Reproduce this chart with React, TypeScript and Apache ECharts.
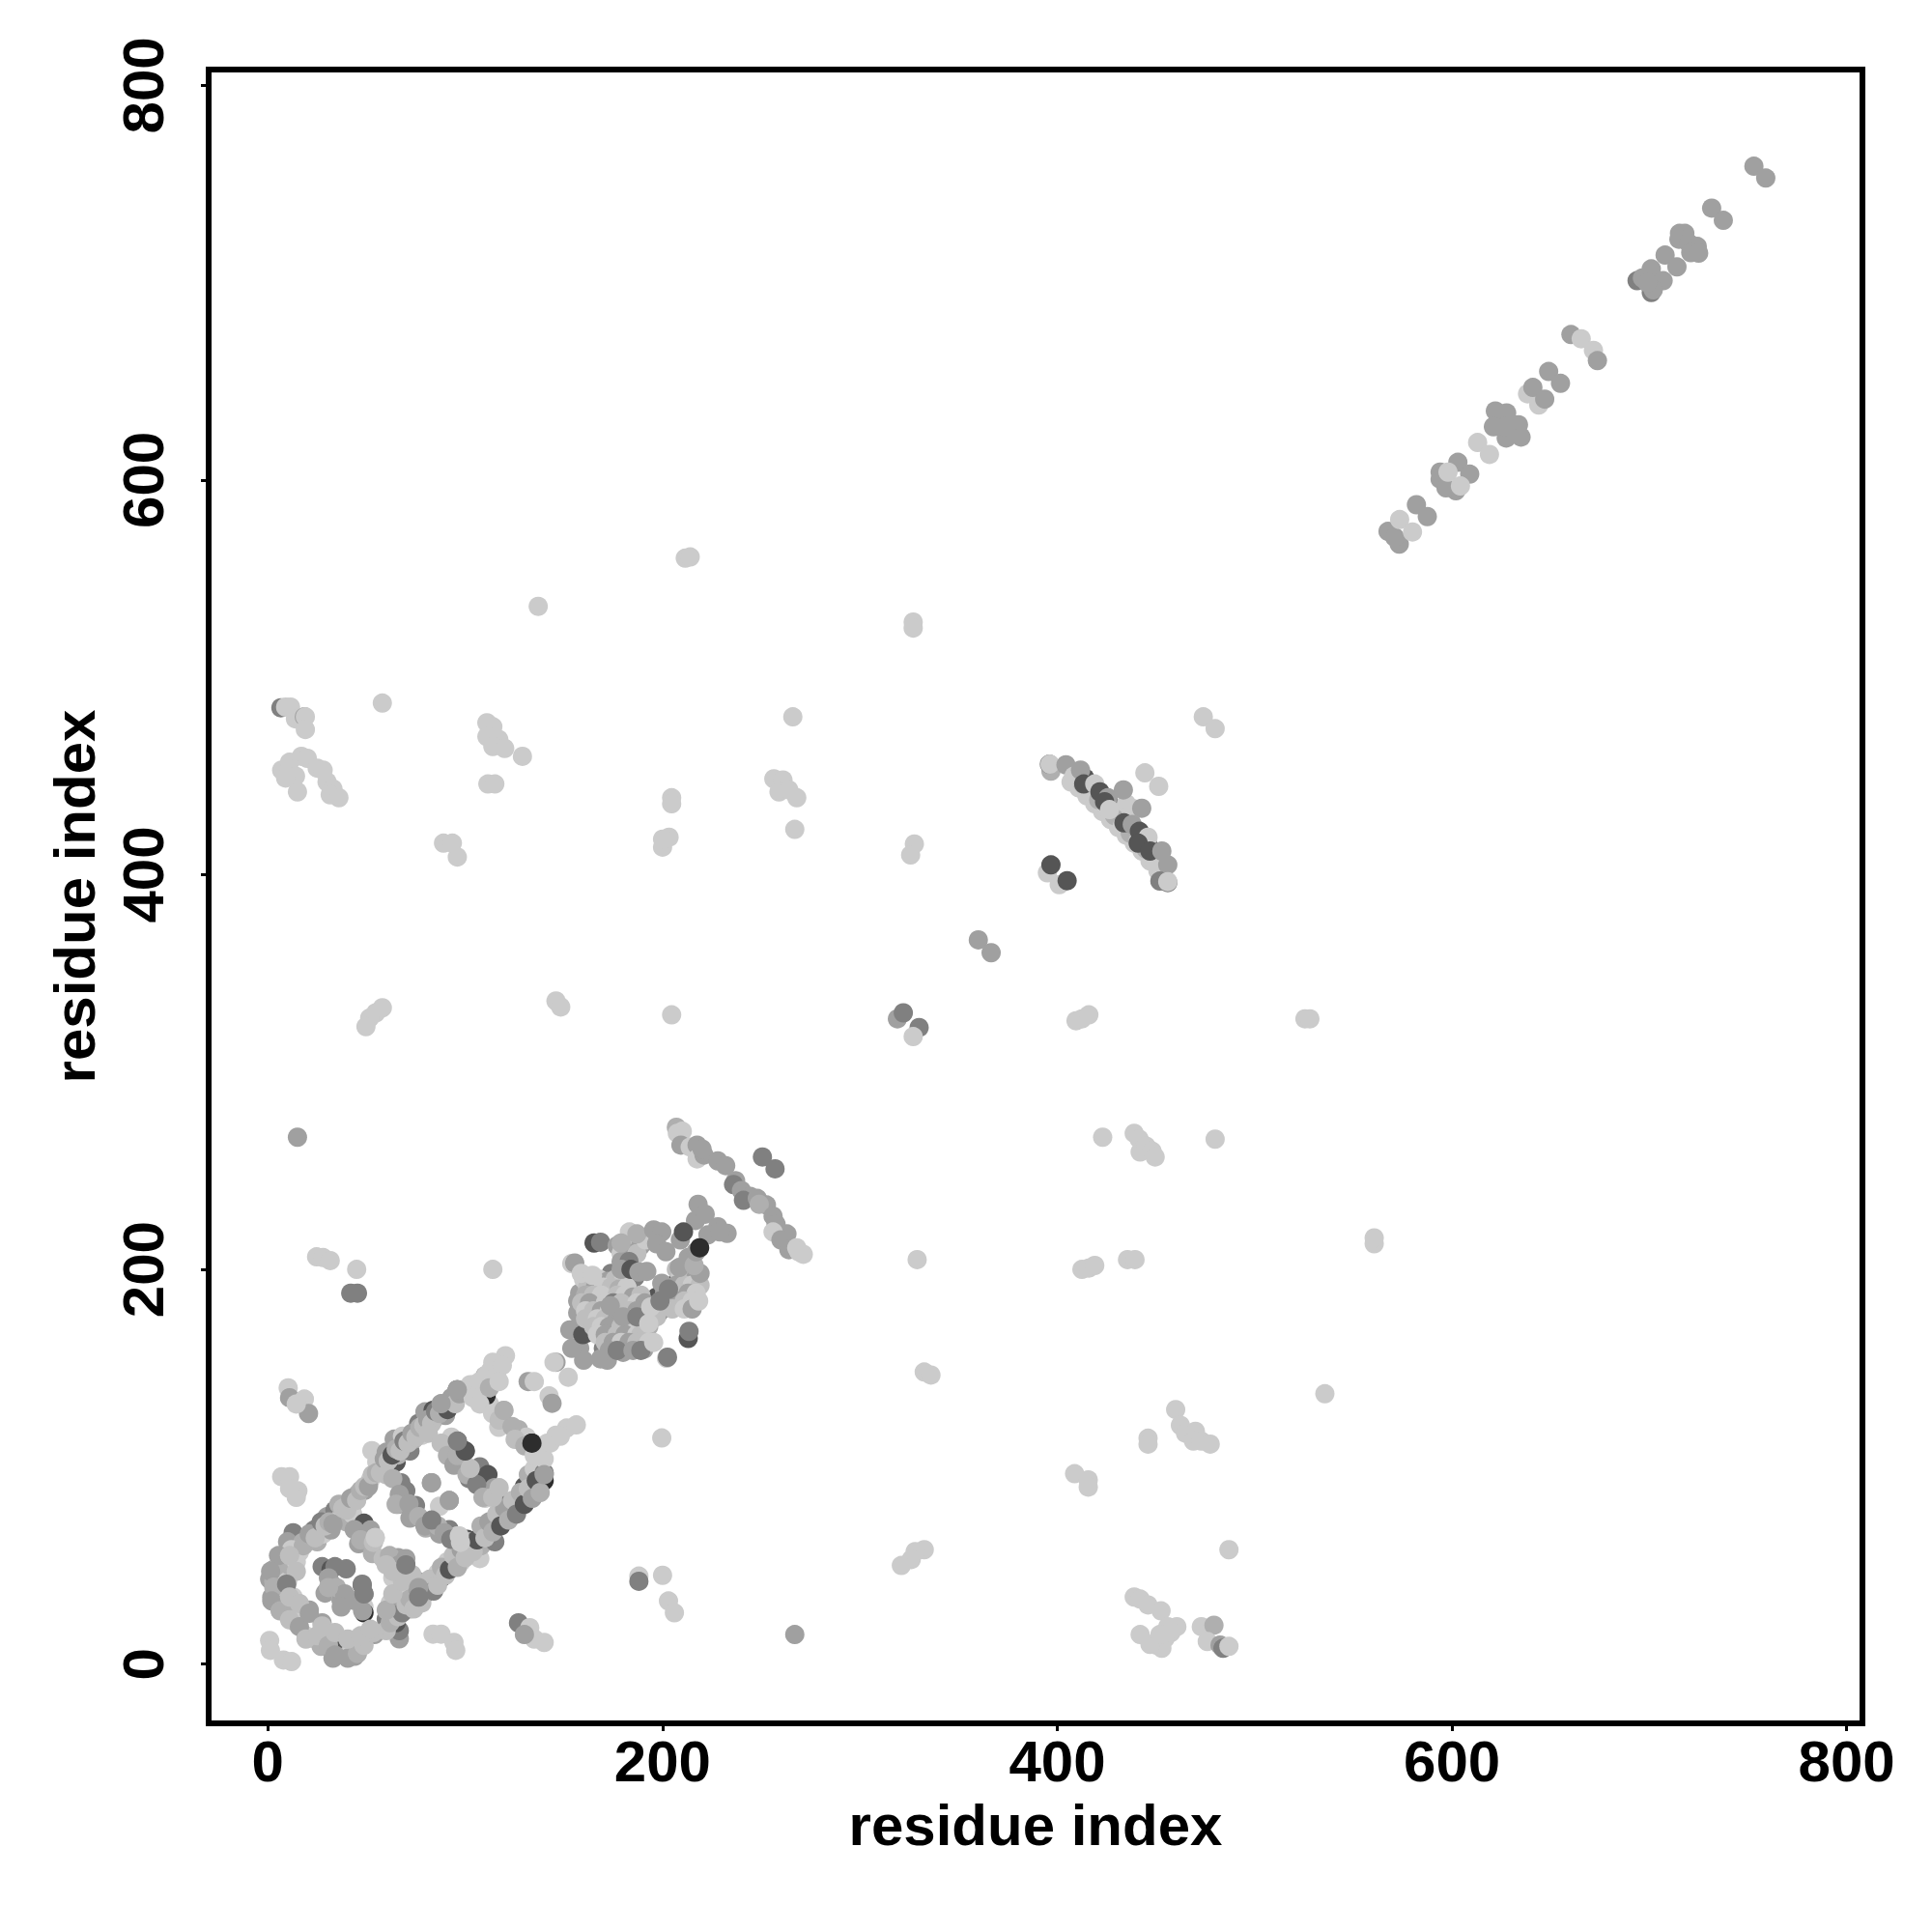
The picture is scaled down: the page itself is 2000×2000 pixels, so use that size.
import React, { useEffect, useRef } from "react";
import * as echarts from "echarts";

const L = 203, F = 190, A = 175, M = 160, D = 128, K = 85, X = 45;
type P = [number, number, number];

const tickValues = [0, 200, 400, 600, 800];
const axisTitle = "residue index";

const upperDiagonal: P[] = [
  [753,759,M],[759,753,M],[731.6,737.8,M],[737.5,731.6,M],[715.3,725,M],[718,725,M],[715,722,M],[720,720,M],[724.3,718.4,M],[721,715.2,M],[725,715,M],
  [708,714,M],[714,708,M],[693.8,701,D],[696.5,702.4,M],[701,707,M],[707,701,M],[701,695,D],[702,696.4,M],[699,700,M],
  [660.3,673.7,M],[665.5,671.6,L],[671.7,665.7,L],[673.7,660.5,M],[649,655,M],[655,649,M],[638.3,643.7,L],[644,638,L],[641,646.9,M],[647,641,M],
  [622,635,M],[627.7,634,M],[621,627,M],[633.7,628,M],[627.5,621.3,M],[635,621.8,M],[627,627,M],[613,619,L],[619,613,L],
  [594,604,M],[594,600.5,M],[602,594.6,M],[597,596,M],[603,609,M],[609,603,M],[598,604,L],[604.3,597,L],
  [582,587.5,M],[587.5,581.5,M],[567.6,574,M],[573.3,567.5,M],[571,571,M],[573.5,580,L],[580,573.7,L],
];

const antiparallelFill: P[] = [
  [410,452,K],[414,449,K],[418,445,K],[422,441,K],[426,437,K],[430,432,K],[434,428,K],[438,423,K],[442,419,K],[446,415,K],[450,410,K],
  [407,447,L],[411,444,L],[415,440,L],[419,436,L],[423,432,L],[427,428,L],[431,424,L],[435,420,L],[439,416,L],[443,412,L],[447,407,L],[451,402,L],
  [409,449,L],[413,446,A],[417,442,L],[421,438,A],[425,434,L],[429,430,A],[433,425,L],[437,421,A],[441,417,L],[445,413,A],[449,407,L],[437,429,L],[435,436,L],
];

const antiparallelUpper: P[] = [
  [396.8,452.5,A],[396,456,D],[396.3,456,L],[404.4,455.7,M],[408.5,450,L],[411.8,453,M],[413.4,446,K],[419,446,L],[421.6,442,K],[425.7,439,M],[433.5,443,M],[424,437,K],[426.5,433,L],[438,433.7,L],[442.8,433.7,M],[433.8,426.3,K],[438,425.5,M],[441.6,422,K],[446,419,L],[441,416,K],[447,412,K],[453,412,M],[456,405,M],[452,396.8,D],[456,396,D],[456,396.5,L],
  [444.4,451.6,L],[451.4,444.8,L],[395,401,L],[401,395,L],[396.8,405,K],[405,397,K],
  [360,367,M],[366.5,360.5,M],
];

const lowerDiagonal: P[] = [
  [207,272,A],[207.5,269,L],[210,270,L],[209.3,263,M],[214,262,L],[217.5,263,M],[217.5,256,L],[221,258,M],[220,261,M],[228,255,M],[232,252.6,M],[237,245,M],[236,243,D],[240,240,M],[244.4,237,M],[241,235,D],[248,236,M],[252.6,232.7,M],[249,233,A],
  [256,227,M],[257.5,223,M],[263,218,M],[256,219,L],[260,215,M],[264,210,M],[268,211,L],[271.3,207.7,L],[269,209,L],[250.6,257,D],[257,251,D],
];

const centralFillDark: P[] = [
  [165.3,213.4,K],[168.6,213.8,D],[160,180,K],[164,186,K],[168,177,K],[172,188,K],[162,168,K],[170,170,K],[178,172,K],[184,168,K],[190,166,K],[180,200,K],[180,207,K],
  [197,186,K],[204,184,K],[208,195,K],[212,190,K],[198,178,K],[186,196,D],[174,198,D],[176,164,D],[170,160,D],[157,184,M],[156,170,M],[158,160,M],[172,154,M],[160,154,M],
  [154,160,M],[153,169.4,M],[157,178,M],[158,188,M],[168.6,154.7,M],[159.6,167,K],[176,160,M],[180,158,M],[185,161,M],[190.6,159.6,M],
];

const centralFillLight: P[] = [
  [160,195,L],[164,195,F],[168,195,L],[172,194,M],[176,195,F],[180,194,L],[162,191,F],[166,191,M],[170,191,L],[174,191,F],[178,190,A],[182,191,L],
  [161,187,A],[165,187,F],[169,187,L],[177,187,F],[181,187,L],[185,186,M],[189,187,F],[159,183,F],[163,183,M],[171,183,L],[175,183,D],[179,183,F],[187,183,L],[191,183,M],
  [161,179,L],[165,179,F],[169,179,M],[173,179,L],[183,179,F],[187,179,M],[161,175,F],[167,175,L],[171,175,F],[177,175,M],[185,175,L],[189,175,F],
  [165,171,F],[169,171,L],[173,171,M],[179,171,F],[183,171,L],[191,171,F],[193,171,A],[167,167,L],[171,167,M],[177,167,F],[181,167,M],[187,167,L],[189,167,F],
  [171,163,F],[175,163,M],[179,163,L],[183,163,M],[187,163,F],[193,163,L],[173,159,M],[177,159,D],[185,159,M],[189,159,D],
  [177,212,M],[181,212,L],[185,212,F],[189,212,M],[179,208,L],[183,208,M],[187,208,F],[179,204,M],[183,204,D],[179,200,M],
  [207,200,F],[211,200,M],[215,200,F],[209,196,L],[213,196,F],[217,196,M],[207,192,M],[211,192,F],[215,192,L],[219,192,F],[201,188,M],[209,188,F],[213,188,M],[217,188,L],
  [203,184,F],[207,184,M],[211,184,F],[215,184,L],[205,180,F],[211,180,L],[215,180,M],[197,176,F],
];

const centralBlock: P[] = [
  [154,203,L],[155.5,203.3,M],[158.8,198,L],[164.5,197,L],[173.5,181.6,M],[180,176,M],[187,176,D],
  [183.2,219,L],[179,213.4,A],[191.4,215,L],[187,218,A],[195.5,220,M],[199.6,219,M],[197,213,M],[201.7,209,M],
  [184,200,K],[188,198.7,M],[192,199,M],[199.6,193,M],[194,181,L],[198.7,184,D],[203,190,D],[208.5,201,M],[213,206,M],[219,198,M],[216,202,A],[218.3,184,L],[193,172.6,L],[195.5,163,L],
  [213,165,K],[213.4,168.6,D],[202,155,L],[202.5,155.5,D],
  [216.7,224.8,M],[218,233,M],[221.6,228,M],[228,221.6,M],[223,217.5,M],[232.7,218.3,M],[229,219,M],[209,215,M],[210.6,219,K],[217,209,M],[218.8,211,X],
  [146,153,M],[145,153,L],[152.2,145.4,L],[131.9,143.2,M],[135,143.2,L],[142.5,135.9,L],[144,132.2,M],
];

const betaBarrel: P[] = [
  [0.9,43,M],[3,48,M],[4.6,48.6,A],[3,42,A],[2,34,M],[8,34,K],[5,38,L],[10,42,L],[11,50,A],[14.4,51.9,L],[12.8,66.6,D],[10,62,M],[16,56.8,L],[17.7,61.7,A],[12,58,L],[23.4,68,D],[25,62,A],[30,74.7,M],[28,66,L],[34,78,D],[35.6,73,L],[32,68,M],[40,72,A],[43,81,M],[45.4,86,A],[43,76,L],[52,93.5,L],[49,88,M],[55.2,102.4,L],[52.7,108.2,L],[60,107.4,M],[58,99,L],[65,102.4,K],[64,114,M],[68.2,115.5,L],[66,106,A],[72,108,D],[76.4,122,D],[74,114,A],[79.6,127.8,M],[83.7,128.6,K],[78,116,L],[87.8,131.8,L],[84,124,A],[93.5,133.5,D],[90,126,M],[96,139,X],[96,139,M],
  [104,141.6,L],[110,146,A],[113,149,L],[116,146,L],[117.2,151.4,L],[120.4,156.3,L],[108,139,L],
  [10,33,L],[12.8,34,L],[8,27,A],[17.7,27.4,A],[14,22,L],[21,27.4,M],[14.4,20.9,L],[19.3,14.4,L],[23,13,L],[27.5,20.9,M],[30.7,14.4,L],[27,9,A],[34,9.5,X],[34,6,L],[38.9,12,K],[33,3,M],[40.5,4.6,L],[44,4,M],[45.4,7.8,A],[50.3,14.4,L],[47,9,L],[54,15,M],[58.4,17.7,L],
  [66.6,12.8,M],[66.6,17,D],[60,23,D],[63.3,25.8,L],[65,21,K],[68,30,D],[62,31,L],[72,28,A],[76.4,34,D],[78.8,34.8,D],[70,36,L],[76,42,M],[84,42,K],[87.8,43.7,X],[86,46,L],[91,51.9,L],[98,52,L],[100,56,A],[100.9,63.3,K],[107.4,53.5,L],[108,60,A],[109,66,M],[115,62,D],[120,75,A],[120.4,81,K],[124,78,L],[127,84,A],[130,90,K],[135,88,D],[132,96,A],[140,96,M],[140,93,X],[135,99,L],
  [27.5,49.4,D],[32,48,K],[34,49.4,D],[39.7,48.3,D],[32.3,40.5,M],[29,36,M],[37,33,A],[37.2,32.3,M],[48.7,35.6,D],[47.8,40.5,D],[48.7,29,L],[48.7,26,X],[48,27,M],
  [48.7,71.4,K],[52,68,M],[54.4,64.1,L],[46,61,M],[53,56,A],[60,53.5,A],[63,50,L],[66,54,M],[69.9,50.3,K],[63.3,43.7,L],
  [67.4,91.9,D],[69.9,87.8,D],[66,81,M],[74.8,80.4,D],[72,74,M],[83,72.3,D],[80,69,A],[91.9,68.2,D],[87,66,M],[96,65,L],[82.9,91.9,M],[91.9,82.9,M],[87,80,L],
  [96,113,K],[100,108,K],[93,115,L],[95,108,M],[107.4,100,D],[102,94,D],[111.5,96,K],[114.7,89.4,M],[117.2,84.5,D],[110,84,L],[119.6,128.6,L],[112.3,131.8,L],[110.6,136,X],[106,134,L],[117,120,L],[127,118.8,A],[131,115,L],[133.8,112,X],[141.6,112,L],[146,116,L],[151.4,119.6,L],[156.3,121.2,L],[138.4,105.7,L],
  [10.3,140,L],[11,135,M],[18.5,134.3,L],[20.6,127,M],[14.4,131.8,L],[7,95,L],[11,95,L],[15.2,87.8,L],[14.4,84.5,L],[11,89,L],
  [0.9,12,L],[1.3,7,L],[7.9,2.1,L],[12,1.3,L],[83.7,15.2,L],[87.8,15.2,L],[94.3,11,L],[95.2,7,L],[127,20.9,D],[132.7,18.5,L],[135,12.7,L],[130,15,M],[140,11,L],
];

const outerStrandFill: P[] = [
  [18,60,A],[21,66,M],[24,64,F],[27,72,D],[29,70,F],[31,72,A],[33,71,M],[36,81,A],[38,79,F],[40,78,F],[42,84,M],[45,83,F],[47,88,A],[49,90,F],[51,90,M],[53,96,F],[55,97,A],[57,97,F],[59,104,M],[61,103,F],[63,106,K],[65,109,A],[67,108,F],[69,113,D],[71,112,F],[73,117,M],[75,115,F],[77,120,A],[79,121,F],[81,124,M],[83,122,F],[85,128,D],[87,127,A],[89,131,F],[91,129,K],[93,135,M],[95,132,F],[97,137,M],
  [102.5,141.6,L],[107.4,143.2,L],[110.6,146.5,L],[114,153,L],[118.8,151.4,L],[112.3,140,A],[117.2,143.2,L],[104,135,L],
];

const innerStrandFill: P[] = [
  [60,17,F],[62,21,A],[64,28,M],[66,24,F],[68,26,D],[70,30,F],[72,33,A],[74,28,F],[76,38,M],[78,31,F],[80,37,A],[82,43,F],[84,37,D],[86,40,F],[88,49,A],[90,45,F],[92,48,K],[94,55,F],[96,49,A],[98,58,M],[100,54,F],[102,62,A],[104,57,F],[106,63,K],[108,70,A],[110,64,F],[112,72,M],[114,67,A],[116,76,F],[118,70,K],[120,79,M],[122,73,A],[124,83,F],[126,76,D],[128,87,A],[130,81,K],[132,89,F],[134,84,M],[136,93,K],[138,87,A],[140,97,D],
];

const loopFill: P[] = [
  [5.4,55,M],[1.4,47,M],[3,39,A],[2,32,M],[6.2,27,A],[11,22.5,F],[16,19,M],[19.3,12.7,F],[25,14.4,F],[30.7,9.5,A],[34,4.6,M],[40.5,3,M],[45.4,5.4,A],[48.7,9.5,F],[53.5,16,F],
  [11,55,F],[14.4,47,F],[9.5,40.5,D],[11,34,F],[16,30.7,F],[21,25.8,M],[27.5,19.3,F],[34,16,F],[40.5,12.7,F],[47,14.4,F],[52,17.7,F],
  [60,27.4,A],[63.3,35.6,F],[68.2,42,F],[73,45.4,F],[76.4,38.8,M],
  [30.7,43.7,M],[34.8,38.8,A],[38.9,35.6,M],[43.8,32.3,M],[30.7,38.8,A],[37.2,29,M],
];

const crossStrandFill: P[] = [
  [43.8,68.2,M],[47,63,A],[53.5,61.7,F],[58.4,53.5,F],[61.7,55,A],[66.6,50.3,M],[63.3,47,F],[69.9,53.5,M],[60,50.3,F],
  [60,96,F],[63.3,94,A],[66.6,86,M],[65,81,A],[71.5,81.2,M],[76.4,74.7,A],[79.6,70,M],[86.2,70,A],[83,73,D],[89.4,66.6,M],[92.7,63.3,D],[97.6,61.7,L],
  [81.3,117,F],[87.8,112,F],[91,105.7,A],[94.3,100.8,M],[100.9,96,A],[105.8,91,D],[109,84.5,A],[113.9,84.5,F],[117.2,89.4,F],[96,105.7,A],[102.5,99.2,F],
  [107.4,131.8,L],[113.9,127,L],[117.2,123.7,F],[123.7,120.4,A],[125.3,113.9,F],[130.2,110.6,A],[135,105.7,L],[140,104,L],[143,112,L],[148.2,115.5,L],
];

const barrelTop: P[] = [
  [96,139,M],[100,108,K],[96,113,D],[133.8,112,X],[48.7,35.6,D],[47.8,40,D],[69.9,50.3,D],[82.9,91.9,M],[91.9,82.9,M],[140,96,M],[119.6,128.6,A],[54.4,64.1,L],[76.4,34,D],[97,65,L],[87.8,132,M],
];

const scatteredLeft: P[] = [
  [211.5,560.4,L],[214,561,L],[137,536,L],[58,487,L],[266,480,L],
  [6.6,484.6,D],[9,485,L],[11.5,485,L],[14,479,L],[18.5,480,M],[19,480,L],[19,473.6,L],[7,453,L],[11,457,L],[17,460,L],[20,459,L],[14,450,L],[15,442,L],[25,454,L],[28,453,L],[30,447,L],[33,443.5,L],[31.6,440.5,L],[36,439,L],[9,449,L],
  [111,477,L],[114,475,L],[111,470,L],[117,468.6,L],[114,465,L],[120,464,L],[129,460,L],[111.5,446,L],[115,446,L],
  [256.4,448.6,L],[261,448,L],[259,442,L],[264,443,L],[268,439,L],[267,423,L],
  [204.6,439,L],[204.6,436,L],[203.3,419,L],[200,414,L],[200,418,L],[89,416,L],[93.5,416,L],[96,409,L],
  [58,332.6,L],[54.7,330,L],[51.6,327.4,L],[49.7,323,L],[146,336,L],[148.4,333,L],[204.6,329,L],
  [15,267,M],[24.7,206.4,L],[28,206,L],[31.6,204.5,L],[45,200,L],[42,188,D],[45.4,188,D],[114,200,L],
  [199.6,114.6,L],[200,45,L],[188,44.6,L],[188,42,D],[203,32,L],[206,26,L],[267,15,M],
];

const scatteredRight: P[] = [
  [327,528,L],[327,525,L],[474,480,L],[480,474,L],[327.6,415.6,L],[325.7,410,L],
  [319,327,M],[322,330,D],[330,322.6,D],[327,318,L],[409.5,326,L],[412.5,327,L],[416,329,L],[525.5,327,L],[528,327,L],
  [423,267,L],[439,269,L],[441.5,266,L],[442,259.5,L],[445,262.5,L],[448,260,L],[449.6,257,L],[480,266,L],
  [560.6,213,L],[560.6,216,L],[329,205,L],[412.5,200,L],[416,200.7,L],[419,202,L],[435.6,205,L],[439.4,205,L],
  [535.6,137,L],[332.6,148,L],[336,146.5,L],[460,129,L],[446,114.5,L],[446,111.5,L],[462.4,121,L],[465,117,L],[470,118,L],[469,113,L],[473,113,L],[477.5,111.5,L],
  [408.8,96.5,L],[415.7,93.4,L],[415.7,89.7,L],[487,58,L],[332.6,58,L],[328,57,L],[326,53,L],[321,50,L],
  [439,34,L],[442,33,L],[446,30,L],[452.6,27,L],[442,15,L],[460.6,19,L],[457.6,16,L],[454.6,13,L],[450,9.7,L],[453,8,L],[447,10,L],[456,19,L],[452,15,L],[473,19,L],[479.4,19.7,A],[476,11.5,L],[482.5,9.7,M],[484,8,D],[487,9,L],
];

const regions: P[][] = [upperDiagonal, antiparallelFill, antiparallelUpper, lowerDiagonal, centralFillDark, centralFillLight, centralBlock, betaBarrel, outerStrandFill, innerStrandFill, loopFill, crossStrandFill, barrelTop, scatteredLeft, scatteredRight];

const font = "'Liberation Sans', Arial, sans-serif";

export default function App() {
  const ref = useRef<HTMLDivElement>(null);
  useEffect(() => {
    document.body.style.margin = "0";
    document.body.style.background = "#fff";
    const chart = echarts.init(ref.current!, null, { renderer: "svg" });
    const axisCommon = {
      type: "value" as const,
      min: -30,
      max: 808,
      name: axisTitle,
      nameLocation: "middle" as const,
      nameTextStyle: { fontFamily: font, fontWeight: "bold" as const, fontSize: 60, color: "#000" },
      splitLine: { show: false },
      axisLine: { show: false, onZero: false },
      axisTick: { show: true, length: 8, inside: false, customValues: tickValues, lineStyle: { color: "#000", width: 3 } },
    };
    chart.setOption({
      animation: false,
      backgroundColor: "#fff",
      grid: { show: true, left: 216, right: 72, top: 72, bottom: 216, borderColor: "#000", borderWidth: 6, backgroundColor: "transparent" },
      xAxis: {
        ...axisCommon,
        nameGap: 75,
        axisLabel: { customValues: tickValues, margin: 9, fontFamily: font, fontWeight: "bold", fontSize: 60, color: "#000", hideOverlap: false },
      },
      yAxis: {
        ...axisCommon,
        nameGap: 109,
        axisLabel: { customValues: tickValues, rotate: 90, margin: 38, fontFamily: font, fontWeight: "bold", fontSize: 60, color: "#000", hideOverlap: false },
      },
      series: regions.map((data) => ({
        type: "scatter",
        data,
        symbol: "circle",
        symbolSize: 20,
        silent: true,
        itemStyle: {
          opacity: 1,
          color: (p: any) => {
            const g = p.data[2];
            return `rgb(${g},${g},${g})`;
          },
        },
      })),
    });
    return () => chart.dispose();
  }, []);
  return <div ref={ref} style={{ position: "absolute", left: 0, top: 0, width: 2000, height: 2000 }} />;
}
